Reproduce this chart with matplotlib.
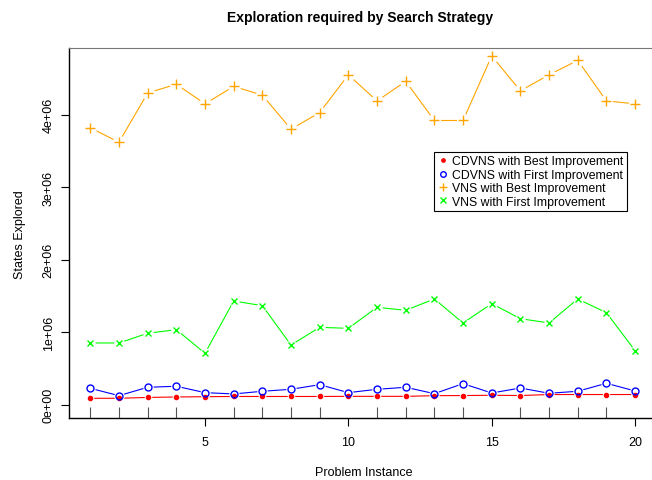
import numpy as np
import matplotlib.pyplot as plt
import matplotlib as mpl

mpl.rcParams['font.family'] = ['Liberation Sans', 'DejaVu Sans']

# problem instances 1..20
instance = list(range(1, 21))

# states explored, per strategy (in units of 1e6)
cdvns_best = [0.088, 0.088, 0.100, 0.106, 0.110, 0.113, 0.113, 0.113, 0.113, 0.115,
              0.115, 0.115, 0.124, 0.126, 0.130, 0.126, 0.140, 0.140, 0.140, 0.140]
cdvns_first = [0.226, 0.124, 0.240, 0.254, 0.166, 0.148, 0.185, 0.212, 0.276, 0.166,
               0.212, 0.240, 0.152, 0.290, 0.161, 0.230, 0.157, 0.185, 0.295, 0.189]
vns_best = [3.82, 3.62, 4.30, 4.42, 4.15, 4.39, 4.27, 3.80, 4.03, 4.55,
            4.19, 4.46, 3.92, 3.92, 4.81, 4.33, 4.55, 4.75, 4.19, 4.15]
vns_first = [0.851, 0.851, 0.985, 1.035, 0.709, 1.430, 1.366, 0.823, 1.067, 1.053,
             1.343, 1.302, 1.458, 1.127, 1.393, 1.186, 1.127, 1.458, 1.269, 0.745]

series = [
    ('CDVNS with Best Improvement', cdvns_best, 'red', 'o', 3.0, 'red'),
    ('CDVNS with First Improvement', cdvns_first, 'blue', 'o', 5.0, 'none'),
    ('VNS with Best Improvement', vns_best, '#FFA500', '+', 7, None),
    ('VNS with First Improvement', vns_first, '#00FF00', 'x', 5, None),
]

fig = plt.figure(figsize=(6.52, 4.81), dpi=100)
W, H = 652, 481
ax = fig.add_axes([68.5 / W, 1 - 419.3 / H, 1 - 68.5 / W + 0.01, (419.3 - 49) / H])

handles = []
for k, (name, vals, col, mk, ms, fc) in enumerate(series):
    y = np.array(vals) * 1e6
    ax.plot(instance, y, '-', color=col, lw=0.8, zorder=2)
    # white blobs give the R type="b" gaps between segments and points
    ax.plot(instance, y, 'o', color='white', ms=ms + 2.5, mec='none', zorder=3)
    if mk in '+x':
        h, = ax.plot(instance, y, mk, color=col, ms=ms, mew=1.0, ls='none', zorder=4 + k)
    else:
        h, = ax.plot(instance, y, mk, color=col, ms=ms, mfc=fc, mec=col, mew=1.0,
                     ls='none', zorder=4 + k)
    handles.append(h)

ax.set_xlim(0.24, 20.59 + 0.01 * W / 28.67)
ax.set_ylim(-0.188e6, 4.92e6)

ax.set_xticks([5, 10, 15, 20])
ax.set_xticks(instance, minor=True)
ax.set_yticks([0, 1e6, 2e6, 3e6, 4e6])
ax.set_yticklabels(['0e+00', '1e+06', '2e+06', '3e+06', '4e+06'], rotation=90, va='center')
ax.tick_params(axis='x', which='major', direction='out', length=6, width=0.8, labelsize=9, pad=7)
ax.tick_params(axis='x', which='minor', direction='in', length=8, width=0.8, color='#555555')
ax.tick_params(axis='y', direction='out', length=6, width=0.8, labelsize=9, pad=4)

ax.spines['right'].set_visible(False)
ax.spines['top'].set_color('#777777')
ax.spines['left'].set_linewidth(1.0)
ax.spines['bottom'].set_linewidth(1.0)

ax.set_xlabel('Problem Instance', fontsize=9, labelpad=13)
ax.set_ylabel('States Explored', fontsize=9, labelpad=12)
fig.text(360 / W, 1 - 18 / H, 'Exploration required by Search Strategy',
         ha='center', va='center', fontsize=10, fontweight='bold')

leg = ax.legend(handles, [s[0] for s in series], loc='upper left',
                bbox_to_anchor=(434 / W, 1 - 152.7 / H), bbox_transform=fig.transFigure,
                borderaxespad=0, fancybox=False, edgecolor='black', framealpha=1,
                fontsize=8.8, handlelength=0.8, handletextpad=0.4, labelspacing=0.12,
                borderpad=0.3, markerscale=0.8)
leg.get_frame().set_linewidth(0.8)

fig.savefig('out.png', dpi=100)
